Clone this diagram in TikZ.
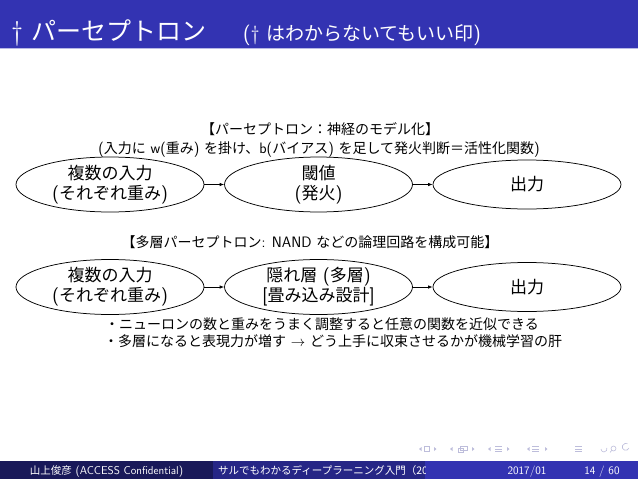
\documentclass[tikz,border=0pt]{standalone}
\usepackage{fontspec}
\setsansfont{Latin Modern Sans}[Scale=1.08]
\renewcommand{\familydefault}{\sfdefault}
\newfontfamily\jp{Noto Sans CJK JP}
\newcommand\J[1]{{\jp #1}}
\usetikzlibrary{shapes.geometric,arrows.meta}
\definecolor{headblue}{rgb}{0.2,0.2,0.7}
\definecolor{footdark}{rgb}{0.1,0.1,0.35}
\definecolor{footmid}{rgb}{0.15,0.15,0.525}
\definecolor{navc}{rgb}{0.74,0.74,0.86}
\definecolor{headline}{rgb}{0.72,0.72,0.9}
\begin{document}
\begin{tikzpicture}[x=1pt,y=-1pt,
  oval/.style={ellipse, draw, line width=0.75pt, minimum width=188pt, minimum height=49pt, inner sep=0pt, align=center, font=\fontsize{17}{20}\selectfont},
  flow/.style={-{Latex[length=4.5pt,width=3.5pt]}, line width=0.75pt},
  lbl/.style={inner sep=0pt, align=center, font=\fontsize{14}{17}\selectfont},
  foot/.style={inner sep=0pt, text=white, font=\fontsize{10.5}{12}\selectfont, anchor=base},
  nav/.style={draw=navc, line width=0.6pt}]
\useasboundingbox (0,0) rectangle (638,479);
% header
\fill[headblue] (0,0) rectangle (638,47.5);
\draw[headline, line width=1pt] (0,48) -- (638,48);
\node[anchor=base west, inner sep=0pt, text=white, font=\fontsize{25}{30}\selectfont] (title) at (11,40) {\textdagger\ \J{パーセプトロン}};
\node[anchor=base west, inner sep=0pt, text=white, font=\fontsize{19}{22}\selectfont] (sub) at (243,40) {(\textdagger\ \J{はわからないてもいい印})};
% row 1
\node[lbl] (l1a) at (320,129) {\J{【パーセプトロン：神経のモデル化】}};
\node[lbl] (l1b) at (319,150) {(\J{入力に} w(\J{重み}) \J{を掛け、}b(\J{バイアス}) \J{を足して発火判断＝活性化関数})};
\node[oval] (in1) at (110,184.5) {\J{複数の入力}\\(\J{それぞれ重み})};
\node[oval] (th1) at (318.5,184.5) {\J{閾値}\\(\J{発火})};
\node[oval] (out1) at (527,184.5) {\J{出力}};
\draw[flow] (in1) -- (th1);
\draw[flow] (th1) -- (out1);
% row 2
\node[lbl] (l2) at (310,242) {\J{【多層パーセプトロン}: NAND \J{などの論理回路を構成可能】}};
\node[oval] (in2) at (110,287) {\J{複数の入力}\\(\J{それぞれ重み})};
\node[oval] (hid2) at (318.5,287) {\J{隠れ層} (\J{多層})\\{[}\J{畳み込み設計}{]}};
\node[oval] (out2) at (527,287) {\J{出力}};
\draw[flow] (in2) -- (hid2);
\draw[flow] (hid2) -- (out2);
\node[lbl, anchor=west] (n1) at (105,324) {\J{・ニューロンの数と重みをうまく調整すると任意の関数を近似できる}};
\node[lbl, anchor=west] (n2) at (104,341) {\J{・多層になると表現力が増す} $\rightarrow$ \J{どう上手に収束させるかが機械学習の肝}};
% navigation symbols
\fill[navc] (419,449) -- (421.5,447) -- (421.5,451) -- cycle;
\draw[nav] (424.5,446.5) rectangle (429.5,451.5);
\fill[navc] (434,447) -- (436.5,449) -- (434,451) -- cycle;
\fill[navc] (450,449) -- (452.5,447) -- (452.5,451) -- cycle;
\draw[nav] (460,446) rectangle (467,450.5);
\draw[nav] (458,448) rectangle (463,452.5);
\fill[navc] (472,447) -- (474.5,449) -- (472,451) -- cycle;
\fill[navc] (488,449) -- (490.5,447) -- (490.5,451) -- cycle;
\draw[nav] (495,446.5) -- (502,446.5) (495,449) -- (502,449) (495,451.5) -- (502,451.5);
\fill[navc] (507,447) -- (509.5,449) -- (507,451) -- cycle;
\fill[navc] (527,449) -- (529.5,447) -- (529.5,451) -- cycle;
\draw[nav] (532,446.5) -- (539,446.5) (532,449) -- (539,449) (532,451.5) -- (539,451.5);
\fill[navc] (545,447) -- (547.5,449) -- (545,451) -- cycle;
\draw[nav] (575,446.5) -- (582,446.5) (575,449) -- (582,449) (575,451.5) -- (582,451.5);
\draw[nav] (601,449) arc[start angle=180, end angle=-20, radius=3];
\draw[nav] (613.5,448.5) circle[radius=2.5] (611.8,450.3) -- (610,452.5);
\draw[nav] (629,448) arc[start angle=20, end angle=300, radius=3.5];
% footer
\fill[footdark] (0,461) rectangle (212.7,479);
\fill[footmid] (212.7,461) rectangle (425.3,479);
\fill[headblue] (425.3,461) rectangle (638,479);
\node[foot] (auth) at (106.5,474) {\J{山上俊彦} (ACCESS Confidential)};
\begin{scope}
\clip (212.7,461) rectangle (425.3,479);
\node[foot, anchor=base west] (ftitle) at (218,474) {\J{サルでもわかるディープラーニング入門（20}};
\end{scope}
\node[foot] (date) at (527,474) {2017/01};
\node[foot] (page) at (602,474) {14 / 60};
\end{tikzpicture}
\end{document}
